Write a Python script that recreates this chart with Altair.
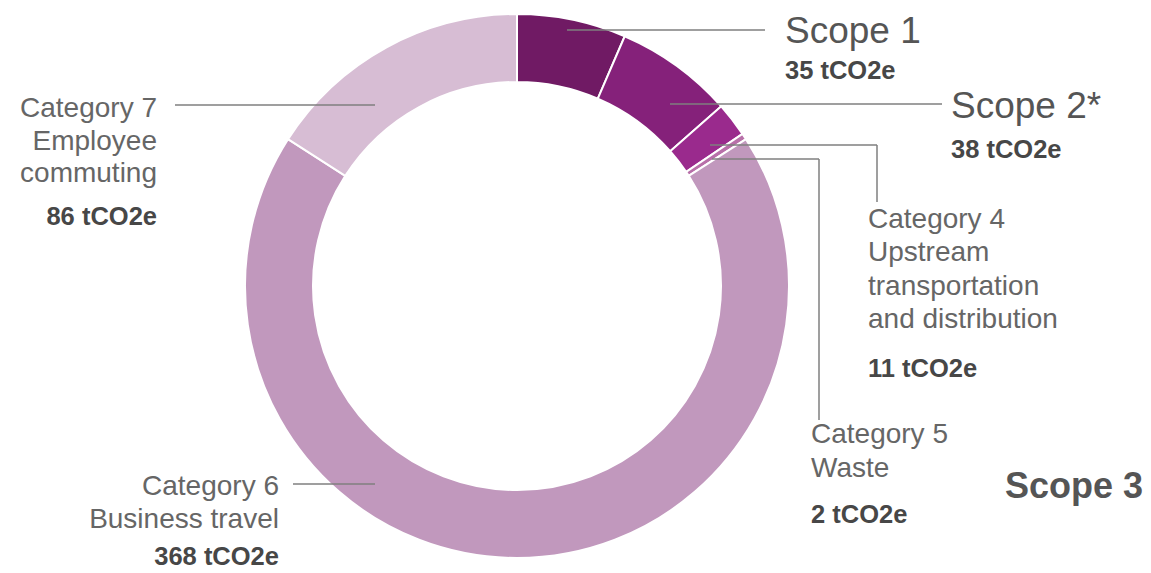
import altair as alt
import pandas as pd

# ---- data ----
categories = ["Scope 1", "Scope 2*", "Category 4", "Category 5", "Category 6", "Category 7"]
values = [35, 38, 11, 2, 368, 86]
unit = "tCO2e"
colors = ["#701A64", "#85217A", "#9A2A8D", "#B870A9", "#C198BD", "#D7BDD4"]

# label text lines (descriptive part) for each slice
desc_lines = {
    "Scope 1": ["Scope 1"],
    "Scope 2*": ["Scope 2*"],
    "Category 4": ["Category 4", "Upstream", "transportation", "and distribution"],
    "Category 5": ["Category 5", "Waste"],
    "Category 6": ["Category 6", "Business travel"],
    "Category 7": ["Category 7", "Employee", "commuting"],
}
group_label = "Scope 3"

# ---- layout (page pixels) ----
W, H = 1135, 565
OFF = 8
CX, CY = 517, 286
R_OUT, R_IN = 272, 204

# label anchor: x, first-line baseline, line step, value baseline, align
label_pos = {
    "Scope 1": (785, 43, 0, 79, "left"),
    "Scope 2*": (951, 118, 0, 158, "left"),
    "Category 4": (868, 228, 33.4, 377, "left"),
    "Category 5": (811, 443, 34, 523, "left"),
    "Category 6": (279, 495, 33, 565, "right"),
    "Category 7": (157, 117, 32.5, 225, "right"),
}
group_pos = (1005, 498)

leaders = [
    (567, 30, 765, 30),
    (670, 104, 942, 104),
    (710, 145, 877, 145), (877, 145, 877, 202),
    (712, 159, 819, 159), (819, 159, 819, 420),
    (175, 105, 375, 105),
    (293, 484, 375, 484),
]

# ---- tables ----
slices = pd.DataFrame({"category": categories, "value": values, "order": list(range(len(categories)))})

rows = []
for cat, v in zip(categories, values):
    x, y0, step, yv, align = label_pos[cat]
    is_scope = cat.startswith("Scope")
    for i, line in enumerate(desc_lines[cat]):
        rows.append({"text": line, "x": x - OFF, "y": y0 + i * step - OFF,
                     "style": ("scope" if is_scope else "cat") + "_" + align})
    rows.append({"text": f"{v} {unit}", "x": x - OFF, "y": yv - OFF, "style": "val_" + align})
rows.append({"text": group_label, "x": group_pos[0] - OFF, "y": group_pos[1] - OFF, "style": "group_left"})
texts = pd.DataFrame(rows)

lines = pd.DataFrame([{"x": a - OFF, "y": b - OFF, "x2": c - OFF, "y2": d - OFF} for a, b, c, d in leaders])

xs = alt.Scale(domain=[0, W], nice=False, zero=False)
ys = alt.Scale(domain=[H, 0], nice=False, zero=False)

arc = alt.Chart(slices).mark_arc(
    innerRadius=R_IN, outerRadius=R_OUT, stroke="white", strokeWidth=2
).encode(
    theta=alt.Theta("value:Q", stack=True),
    order=alt.Order("order:Q"),
    color=alt.Color("category:N", scale=alt.Scale(domain=categories, range=colors), legend=None),
    x=alt.value(CX - OFF),
    y=alt.value(CY - OFF),
)

rules = alt.Chart(lines).mark_rule(color="#7f7f7f", strokeWidth=1.5).encode(
    x=alt.X("x:Q", scale=xs, axis=None),
    y=alt.Y("y:Q", scale=ys, axis=None),
    x2="x2:Q",
    y2="y2:Q",
)

styles = {
    "scope_left": dict(fontSize=37, fontWeight="normal", color="#555555", align="left"),
    "cat_left": dict(fontSize=28, fontWeight="normal", color="#666666", align="left"),
    "cat_right": dict(fontSize=28, fontWeight="normal", color="#666666", align="right"),
    "val_left": dict(fontSize=25.5, fontWeight="bold", color="#474747", align="left"),
    "val_right": dict(fontSize=25.5, fontWeight="bold", color="#474747", align="right"),
    "group_left": dict(fontSize=36, fontWeight="bold", color="#555555", align="left"),
}

text_layers = []
for key, st in styles.items():
    text_layers.append(
        alt.Chart(texts).transform_filter(alt.datum.style == key).mark_text(
            font="Liberation Sans", baseline="alphabetic", **st
        ).encode(
            x=alt.X("x:Q", scale=xs, axis=None),
            y=alt.Y("y:Q", scale=ys, axis=None),
            text="text:N",
        )
    )

chart = alt.layer(arc, rules, *text_layers).properties(
    width=W, height=H, padding=0, autosize=alt.AutoSizeParams(type="none"),
    background="white",
).configure_view(stroke=None)

chart.save("out.html", embed_options={"renderer": "svg", "actions": False})
